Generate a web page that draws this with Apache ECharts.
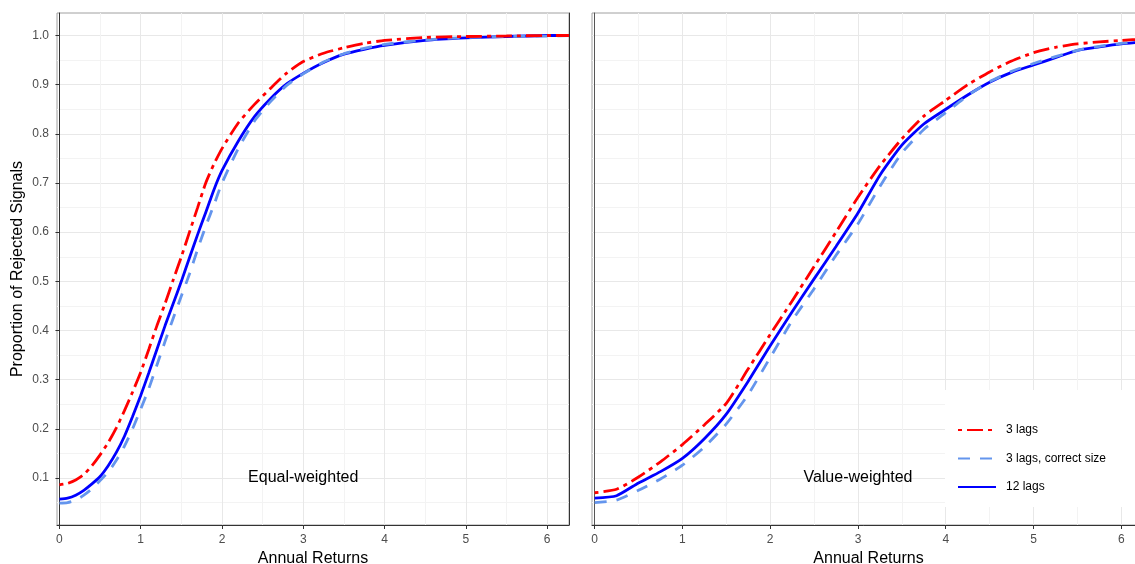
<!DOCTYPE html>
<html>
<head>
<meta charset="utf-8">
<script src="https://cdn.jsdelivr.net/npm/echarts@6/dist/echarts.min.js"></script>
<style>
html, body { margin: 0; padding: 0; background: #fff; }
#chart { width: 1135px; height: 564px; }
</style>
</head>
<body>
<div id="chart"></div>
<script>
// data
var xTicks = [0, 1, 2, 3, 4, 5, 6];
var xMinor = [0.5, 1.5, 2.5, 3.5, 4.5, 5.5];
var yTicks = [0.1, 0.2, 0.3, 0.4, 0.5, 0.6, 0.7, 0.8, 0.9, 1.0];
var yMinor = [0.05, 0.15, 0.25, 0.35, 0.45, 0.55, 0.65, 0.75, 0.85, 0.95];

var eqX = [0, 0.1, 0.2, 0.3, 0.4, 0.5, 0.6, 0.7, 0.8, 0.9, 1.0, 1.1, 1.2, 1.3, 1.4, 1.5, 1.6, 1.7, 1.8, 1.9, 2.0,
    2.2, 2.4, 2.6, 2.8, 3.0, 3.25, 3.5, 3.75, 4.0, 4.5, 5.0, 5.5, 6.0, 6.27];
var eq3lags = [0.086, 0.089, 0.096, 0.107, 0.125, 0.147, 0.172, 0.202, 0.237, 0.275, 0.315, 0.362, 0.41, 0.455, 0.503, 0.55, 0.60, 0.65, 0.70, 0.738, 0.77,
    0.822, 0.86, 0.893, 0.924, 0.947, 0.964, 0.975, 0.984, 0.99, 0.996, 0.998, 0.999, 1.0, 1.0];
var eq3lagsCorrect = [0.049, 0.05, 0.055, 0.065, 0.078, 0.095, 0.112, 0.136, 0.165, 0.2, 0.24, 0.282, 0.33, 0.378, 0.425, 0.47, 0.515, 0.565, 0.612, 0.655, 0.70,
    0.77, 0.826, 0.866, 0.899, 0.922, 0.946, 0.963, 0.974, 0.982, 0.991, 0.996, 0.998, 0.999, 1.0];
var eq12lags = [0.057, 0.059, 0.065, 0.075, 0.088, 0.103, 0.125, 0.152, 0.185, 0.225, 0.268, 0.314, 0.362, 0.41, 0.455, 0.50, 0.548, 0.595, 0.64, 0.686, 0.725,
    0.785, 0.835, 0.872, 0.902, 0.923, 0.945, 0.962, 0.972, 0.98, 0.99, 0.995, 0.998, 1.0, 1.0];

var vwX = [0, 0.25, 0.5, 0.75, 1.0, 1.25, 1.5, 1.75, 2.0, 2.25, 2.5, 2.75, 3.0, 3.25, 3.5, 3.75, 4.0, 4.25, 4.5, 4.75,
    5.0, 5.25, 5.5, 5.75, 6.0, 6.27];
var vw3lags = [0.07, 0.077, 0.102, 0.133, 0.168, 0.208, 0.252, 0.322, 0.392, 0.46, 0.53, 0.60, 0.671, 0.735, 0.79, 0.836, 0.868, 0.9, 0.926, 0.948,
    0.965, 0.976, 0.983, 0.987, 0.99, 0.993];
var vw3lagsCorrect = [0.05, 0.055, 0.075, 0.098, 0.126, 0.163, 0.21, 0.27, 0.345, 0.42, 0.485, 0.553, 0.617, 0.693, 0.761, 0.809, 0.843, 0.878, 0.906, 0.927,
    0.943, 0.957, 0.97, 0.978, 0.984, 0.99];
var vw12lags = [0.059, 0.064, 0.09, 0.113, 0.14, 0.18, 0.23, 0.297, 0.369, 0.438, 0.505, 0.571, 0.639, 0.716, 0.777, 0.82, 0.85, 0.879, 0.905, 0.925,
    0.94, 0.955, 0.97, 0.977, 0.983, 0.987];

var panelNames = ['Equal-weighted', 'Value-weighted'];
var labelX = 3;
var labelY = 0.1;

var X_MIN = -0.03, X_MAX = 6.27;
var Y_MIN = 0.0044, Y_MAX = 1.0458;
var FONT = "'Liberation Sans', Arial, sans-serif";

function pairs(xs, ys) {
    return xs.map(function (x, i) { return [x, ys[i]]; });
}

function mainX(gi) {
    return {
        type: 'value', gridIndex: gi, min: X_MIN, max: X_MAX,
        name: 'Annual Returns', nameLocation: 'middle', nameGap: 26,
        nameTextStyle: { color: '#000', fontSize: 16, fontFamily: FONT },
        axisLine: { show: true, onZero: false, lineStyle: { color: '#333', width: 1 } },
        axisTick: { show: true, length: 4, customValues: xTicks, lineStyle: { color: '#333' } },
        axisLabel: { customValues: xTicks, margin: 9, color: '#4d4d4d', fontSize: 12, fontFamily: FONT },
        splitLine: { show: true, lineStyle: { color: '#e8e8e8', width: 1 } }
    };
}

function minorX(gi) {
    return {
        type: 'value', gridIndex: gi, min: X_MIN, max: X_MAX,
        axisLine: { show: false },
        axisTick: { show: false, customValues: xMinor },
        axisLabel: { show: false, customValues: xMinor },
        splitLine: { show: true, lineStyle: { color: '#f3f3f3', width: 1 } }
    };
}

function minorY(gi) {
    return {
        type: 'value', gridIndex: gi, min: Y_MIN, max: Y_MAX,
        axisLine: { show: false },
        axisTick: { show: false, customValues: yMinor },
        axisLabel: { show: false, customValues: yMinor },
        splitLine: { show: true, lineStyle: { color: '#f3f3f3', width: 1 } }
    };
}

function lineSeries(name, gi, data, color, type, offset, z) {
    return {
        name: name, type: 'line', xAxisIndex: gi, yAxisIndex: gi,
        data: data, symbol: 'none', showSymbol: false,
        smooth: 0.2, z: z,
        lineStyle: { color: color, width: 2.8, type: type, dashOffset: offset, cap: 'butt' },
        itemStyle: { color: color }
    };
}

function labelSeries(gi, text) {
    return {
        type: 'scatter', xAxisIndex: gi, yAxisIndex: gi, silent: true,
        data: [[labelX, labelY]], symbolSize: 1,
        itemStyle: { color: 'rgba(255,255,255,0)' },
        label: {
            show: true, position: 'inside', formatter: text, color: '#000', opacity: 1,
            textBorderWidth: 0, fontSize: 16, fontFamily: FONT
        }
    };
}

var myChart = echarts.init(document.getElementById('chart'));

var dashDot = [16, 5, 4, 5];
var dashed = [12, 10];

var option = {
    animation: false,
    backgroundColor: '#fff',
    textStyle: { fontFamily: FONT },
    grid: [
        { left: 57, top: 13, width: 512, height: 512, outerBoundsMode: 'none', show: true, borderColor: '#a0a0a0', borderWidth: 1 },
        { left: 592, top: 13, width: 553, height: 512, outerBoundsMode: 'none', show: true, borderColor: '#a0a0a0', borderWidth: 1 }
    ],
    xAxis: [mainX(0), mainX(1), minorX(0), minorX(1)],
    yAxis: [
        {
            type: 'value', gridIndex: 0, min: Y_MIN, max: Y_MAX,
            name: 'Proportion of Rejected Signals', nameLocation: 'middle', nameGap: 31,
            nameTextStyle: { color: '#000', fontSize: 16, fontFamily: FONT },
            axisLine: { show: true, lineStyle: { color: '#333', width: 1 } },
            axisTick: { show: true, length: 4, customValues: yTicks, lineStyle: { color: '#333' } },
            axisLabel: {
                customValues: yTicks, margin: 8, color: '#4d4d4d', fontSize: 12, fontFamily: FONT,
                formatter: function (v) { return v.toFixed(1); }
            },
            splitLine: { show: true, lineStyle: { color: '#e8e8e8', width: 1 } }
        },
        {
            type: 'value', gridIndex: 1, min: Y_MIN, max: Y_MAX,
            axisLine: { show: true, lineStyle: { color: '#555', width: 1 } },
            axisTick: { show: false, customValues: yTicks },
            axisLabel: { show: false, customValues: yTicks },
            splitLine: { show: true, lineStyle: { color: '#e8e8e8', width: 1 } }
        },
        minorY(0),
        minorY(1),
        {
            // dark right edge of the left panel
            type: 'value', gridIndex: 0, min: Y_MIN, max: Y_MAX, position: 'right',
            axisLine: { show: true, lineStyle: { color: '#333', width: 1 } },
            axisTick: { show: false }, axisLabel: { show: false }, splitLine: { show: false }
        }
    ],
    legend: {
        orient: 'vertical', left: 945, top: 390,
        backgroundColor: '#fff',
        padding: [34, 34, 14, 12],
        itemWidth: 38, itemHeight: 14, itemGap: 16.5,
        itemStyle: { opacity: 0 },
        textStyle: { color: '#000', fontSize: 12, fontFamily: FONT, padding: [0, 0, 0, 5] },
        data: ['3 lags', '3 lags, correct size', '12 lags']
    },
    series: [
        lineSeries('12 lags', 0, pairs(eqX, eq12lags), '#0000ff', 'solid', 0, 2),
        lineSeries('3 lags, correct size', 0, pairs(eqX, eq3lagsCorrect), '#6495ed', dashed, 0, 3),
        lineSeries('3 lags', 0, pairs(eqX, eq3lags), '#ff0000', dashDot, 21, 4),
        lineSeries('12 lags', 1, pairs(vwX, vw12lags), '#0000ff', 'solid', 0, 2),
        lineSeries('3 lags, correct size', 1, pairs(vwX, vw3lagsCorrect), '#6495ed', dashed, 0, 3),
        lineSeries('3 lags', 1, pairs(vwX, vw3lags), '#ff0000', dashDot, 21, 4),
        labelSeries(0, panelNames[0]),
        labelSeries(1, panelNames[1])
    ]
};

myChart.setOption(option);
</script>
</body>
</html>
